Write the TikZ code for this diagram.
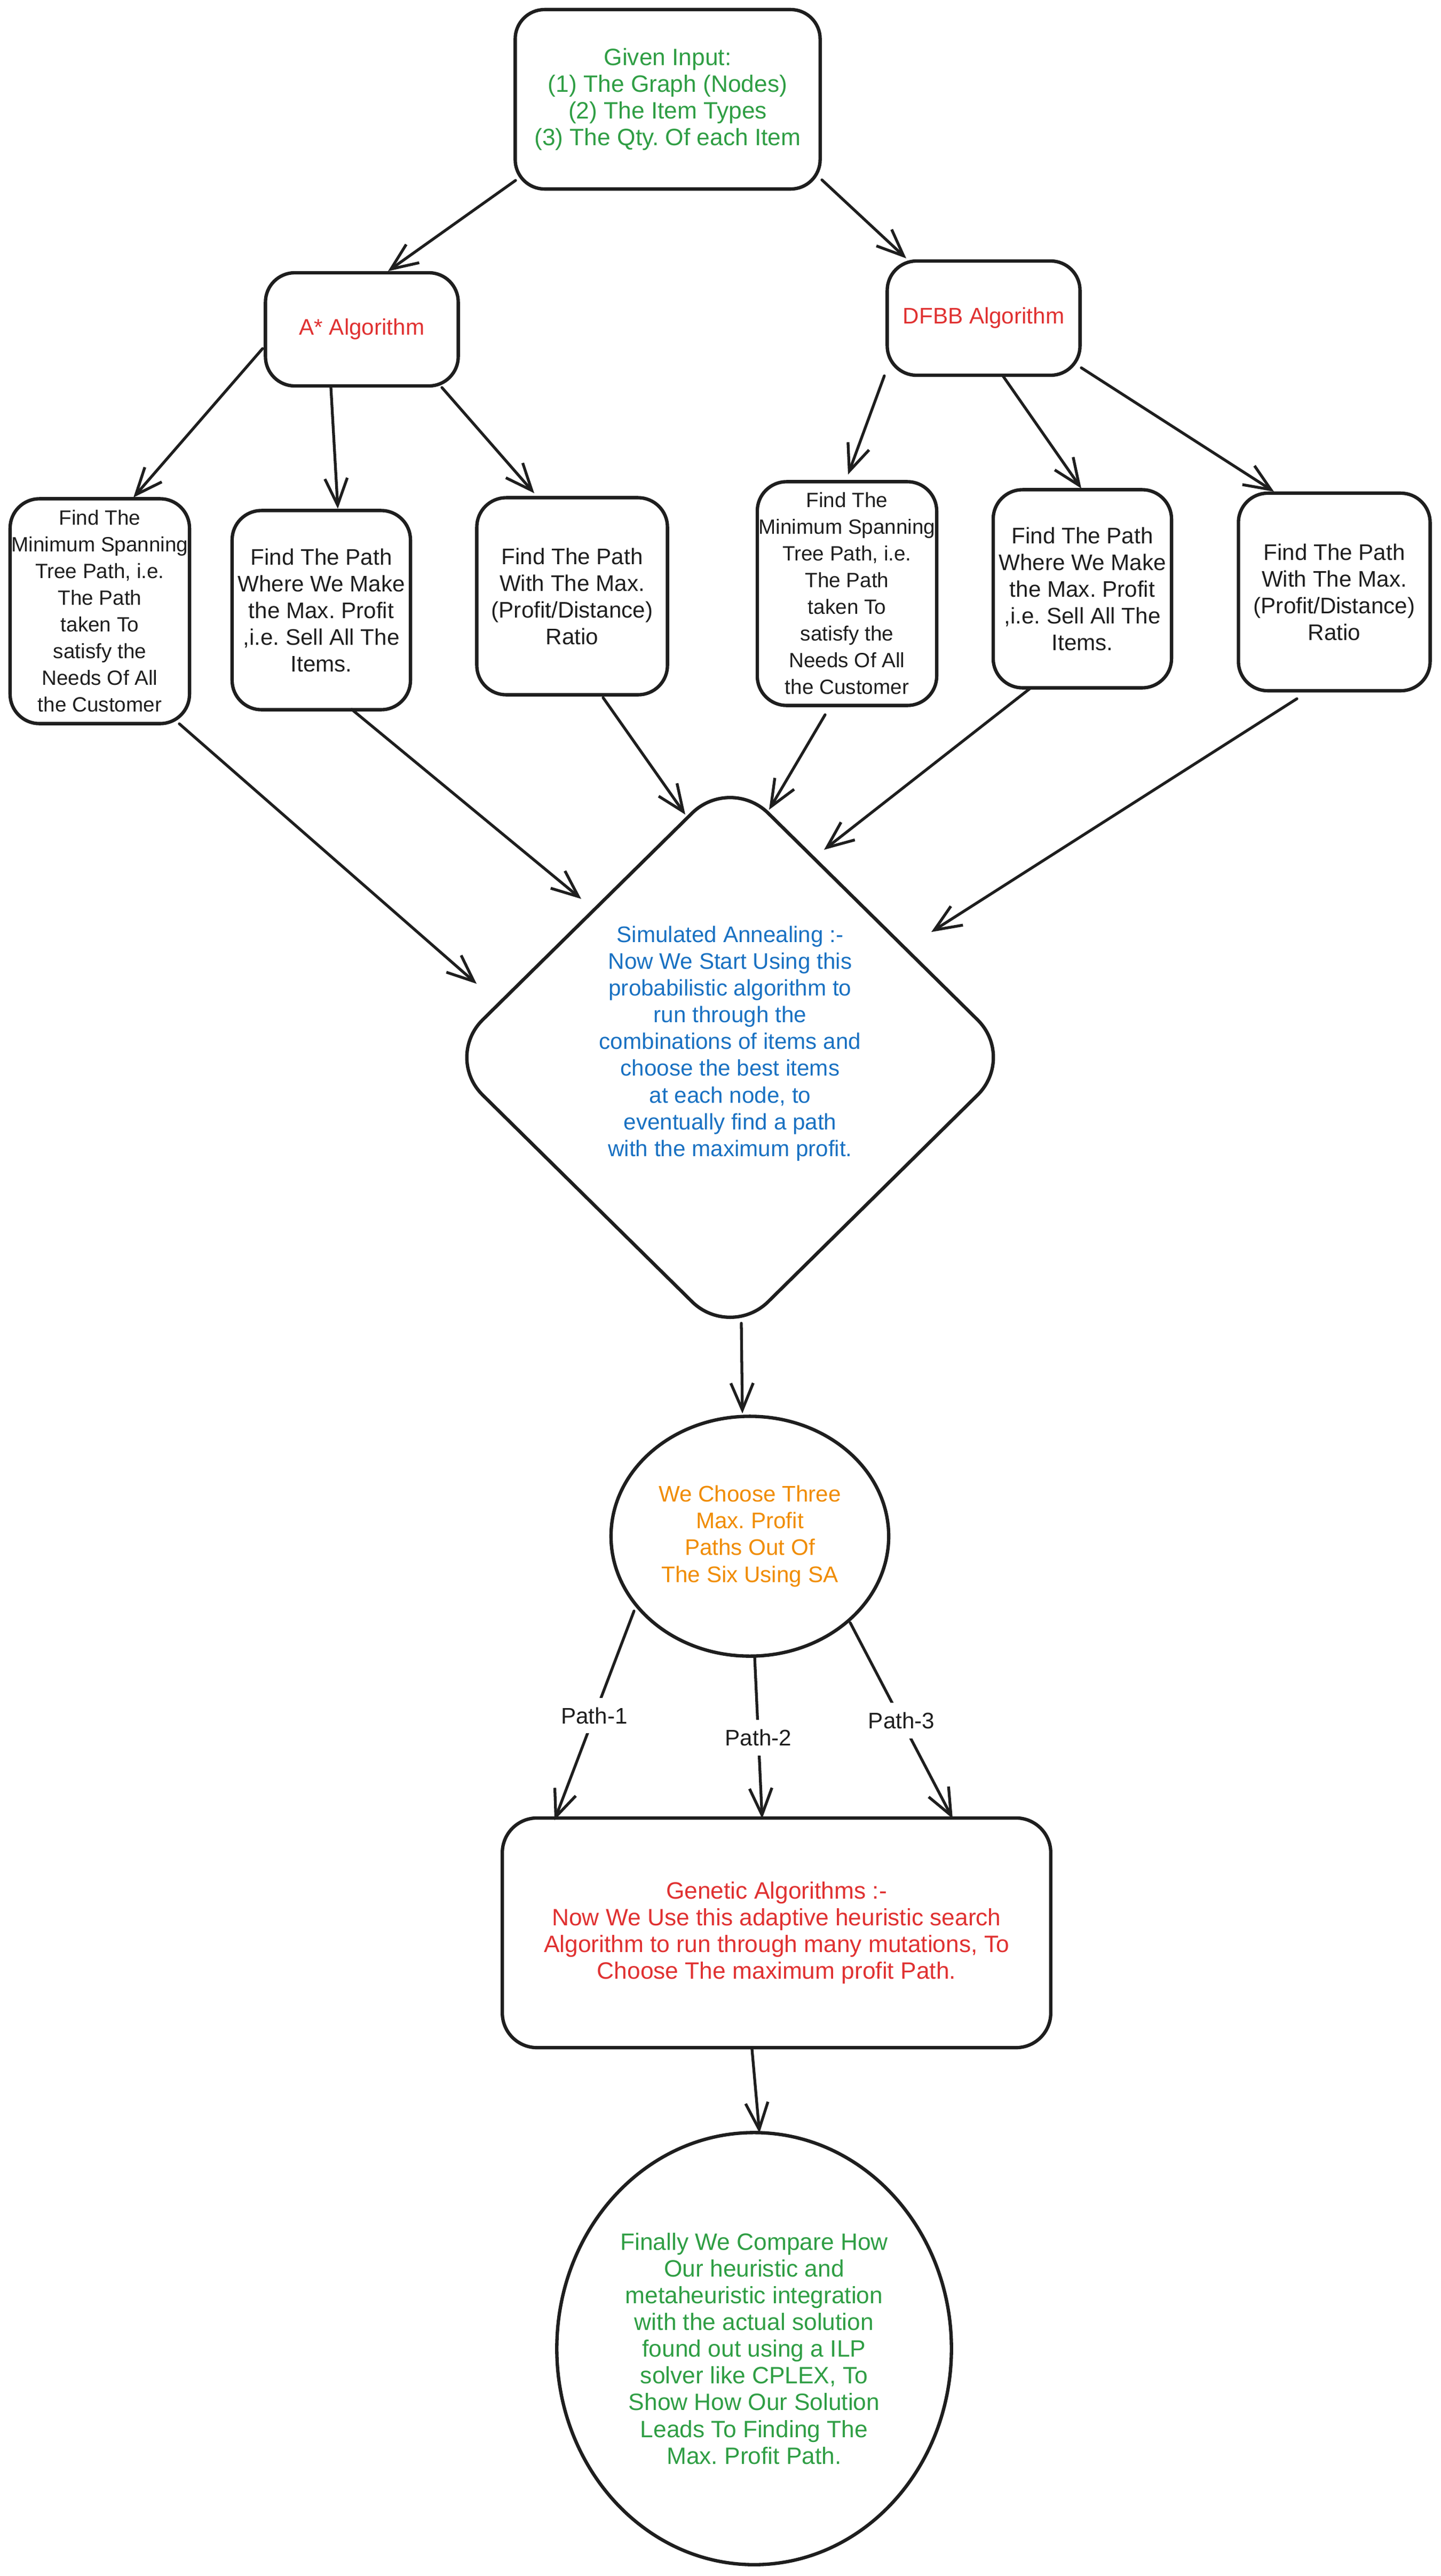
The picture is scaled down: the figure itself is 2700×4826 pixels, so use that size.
\documentclass[tikz,border=0pt]{standalone}
\usepackage{fontspec}
\setmainfont{Liberation Sans}
\usetikzlibrary{shapes.geometric,arrows.meta,calc}
\definecolor{ink}{HTML}{1E1E1E}
\definecolor{exgreen}{HTML}{2F9E44}
\definecolor{exred}{HTML}{E03131}
\definecolor{exblue}{HTML}{1971C2}
\definecolor{exorange}{HTML}{F08C00}
\frenchspacing
\begin{document}
\begin{tikzpicture}[x=0.01cm,y=-0.01cm,
  txt/.style={font=\fontsize{12pt}{14.23pt}\selectfont},
  bigtxt/.style={font=\fontsize{12.6pt}{14.23pt}\selectfont},
  box/.style={draw=ink, line width=1.8pt, rounded corners=0.55cm, align=center, inner sep=0pt, text=ink, txt},
  blob/.style={draw=ink, line width=1.8pt, align=center, inner sep=0pt, txt},
  arr/.style={draw=ink, line width=1.5pt, line cap=round, -{Straight Barb[length=0.5cm,width=0.42cm]}},
  lbl/.style={fill=white, text=ink, inner sep=5pt, txt}
]
\useasboundingbox (0,0) rectangle (2700,4826);
\fill[white] (0,0) rectangle (2700,4826);

% top
\node[box, bigtxt, minimum width=5.71cm, minimum height=3.36cm, text=exgreen] (inp) at (1251,186)
  {Given Input:\\(1) The Graph (Nodes)\\(2) The Item Types\\(3) The Qty. Of each Item};
\node[box, minimum width=3.61cm, minimum height=2.12cm, text=exred] (astar) at (678,617) {A* Algorithm};
\node[box, minimum width=3.61cm, minimum height=2.14cm, text=exred] (dfbb) at (1843,596) {DFBB Algorithm};

% find boxes
\node[box, minimum width=3.36cm, minimum height=4.21cm, font=\fontsize{11pt}{14.23pt}\selectfont] (mstL) at (187,1145)
  {Find The\\Minimum Spanning\\Tree Path, i.e.\\The Path\\taken To\\satisfy the\\Needs Of All\\the Customer};
\node[box, minimum width=3.34cm, minimum height=3.73cm] (profL) at (602,1143)
  {Find The Path\\Where We Make\\the Max. Profit\\,i.e. Sell All The\\Items.};
\node[box, minimum width=3.57cm, minimum height=3.69cm] (ratL) at (1072,1117)
  {Find The Path\\With The Max.\\(Profit/Distance)\\Ratio};
\node[box, minimum width=3.36cm, minimum height=4.19cm, font=\fontsize{11pt}{14.23pt}\selectfont] (mstR) at (1587,1112)
  {Find The\\Minimum Spanning\\Tree Path, i.e.\\The Path\\taken To\\satisfy the\\Needs Of All\\the Customer};
\node[box, minimum width=3.34cm, minimum height=3.71cm] (profR) at (2028,1103)
  {Find The Path\\Where We Make\\the Max. Profit\\,i.e. Sell All The\\Items.};
\node[box, minimum width=3.59cm, minimum height=3.70cm] (ratR) at (2500,1109)
  {Find The Path\\With The Max.\\(Profit/Distance)\\Ratio};

% simulated annealing diamond
\node[blob, diamond, rounded corners=1cm, minimum width=10.72cm, minimum height=10.58cm] (sa) at (1368,1981) {};
\node[txt, align=center, text=exblue, inner sep=0pt] (satxt) at ($(sa)+(0,-26)$)
  {Simulated Annealing :-\\Now We Start Using this\\probabilistic algorithm to\\run through the\\combinations of items and\\choose the best items\\at each node, to\\eventually find a path\\with the maximum profit.};

% choose circle
\node[blob, ellipse, minimum width=5.2cm, minimum height=4.49cm, text=exorange] (cho) at (1405,2878)
  {We Choose Three\\Max. Profit\\Paths Out Of\\The Six Using SA};

% genetic algorithms box
\node[box, bigtxt, rounded corners=0.65cm, minimum width=10.27cm, minimum height=4.3cm, text=exred] (ga) at (1455,3621)
  {Genetic Algorithms :-\\Now We Use this adaptive heuristic search\\Algorithm to run through many mutations, To\\Choose The maximum profit Path.};

% final circle
\node[blob, bigtxt, ellipse, minimum width=7.39cm, minimum height=8.09cm, text=exgreen] (fin) at (1413,4400)
  {Finally We Compare How\\Our heuristic and\\metaheuristic integration\\with the actual solution\\found out using a ILP\\solver like CPLEX, To\\Show How Our Solution\\Leads To Finding The\\Max. Profit Path.};

% connectors
\draw[arr] ($(inp)+(-285,152)$) -- ($(astar)+(49,-109)$);
\draw[arr] ($(inp)+(289,151)$) -- ($(dfbb)+(-145,-112)$);

\draw[arr] ($(astar)+(-186,36)$) -- ($(mstL)+(63,-213)$);
\draw[arr] ($(astar)+(-58,109)$) -- ($(profL)+(31,-190)$);
\draw[arr] ($(astar)+(150,109)$) -- ($(ratL)+(-71,-193)$);

\draw[arr] ($(dfbb)+(-186,108)$) -- ($(mstR)+(2,-223)$);
\draw[arr] ($(dfbb)+(36,108)$) -- ($(profR)+(-2,-188)$);
\draw[arr] ($(dfbb)+(183,93)$) -- ($(ratR)+(-113,-188)$);

\draw[arr] ($(mstL)+(149,211)$) -- ($(sa)+(-475,-138)$);
\draw[arr] ($(profL)+(57,186)$) -- ($(sa)+(-279,-297)$);
\draw[arr] ($(ratL)+(58,190)$) -- ($(sa)+(-84,-455)$);
\draw[arr] ($(mstR)+(-41,227)$) -- ($(sa)+(73,-464)$);
\draw[arr] ($(profR)+(-97,186)$) -- ($(sa)+(176,-389)$);
\draw[arr] ($(ratR)+(-70,200)$) -- ($(sa)+(377,-235)$);

\draw[arr] ($(sa)+(21,498)$) -- ($(cho)+(-14,-230)$);

\draw[arr] ($(cho)+(-217,140)$) -- node[lbl] (p1) {Path-1} ($(ga)+(-416,-211)$);
\draw[arr] ($(cho)+(9,226)$) -- node[lbl] (p2) {Path-2} ($(ga)+(-27,-214)$);
\draw[arr] ($(cho)+(188,162)$) -- node[lbl] (p3) {Path-3} ($(ga)+(330,-214)$);

\draw[arr] ($(ga)+(-46,218)$) -- ($(fin)+(10,-404)$);
\end{tikzpicture}
\end{document}
